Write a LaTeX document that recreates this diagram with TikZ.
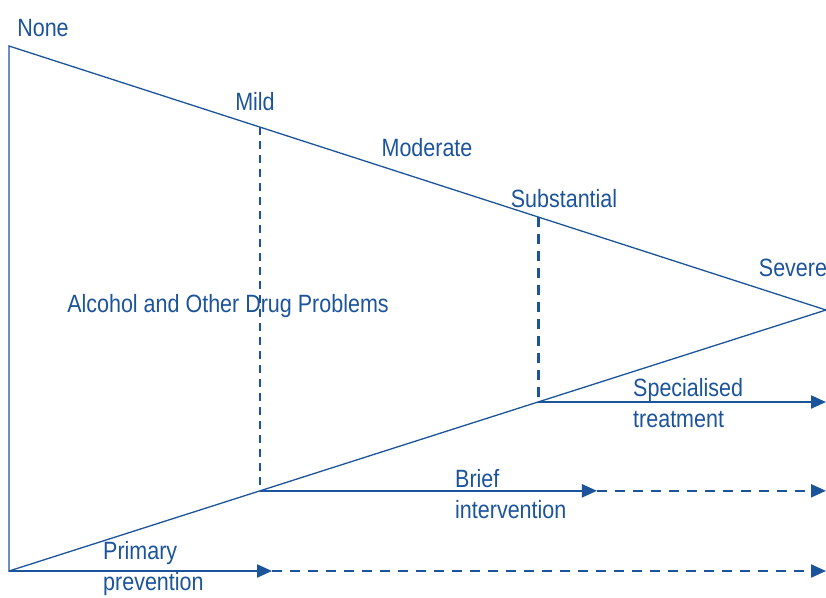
\documentclass[tikz,border=0pt]{standalone}
\usepackage{fontspec}
\setmainfont[FakeStretch=0.86]{Liberation Sans}
\usepackage{tikz}
\usetikzlibrary{arrows.meta,calc,positioning}
\definecolor{aodblue}{RGB}{28,84,156}
\newcommand{\newLevel}[3]{\node[level](#1) at (#3) {#2};}
\newcommand{\newResponse}[3]{\node[response](#1) at (#3) {#2};}

\begin{document}
\begin{tikzpicture}[
    % pixel units, y downwards
    x=1pt,y=-1pt,
    % Default arrow tip
    >={Triangle[length=15pt,width=13pt]},
    % text and line styles
    every node/.style={text=aodblue,font=\fontsize{25}{31}\selectfont},
    level/.style={inner sep=0pt},
    response/.style={inner sep=0pt,anchor=west,align=left},
    edgeline/.style={draw=aodblue,line width=1.3pt},
    arrowline/.style={draw=aodblue,line width=2.2pt,->},
    cutline/.style={draw=aodblue,line width=2pt,dash pattern=on 8pt off 6pt},
    ]
    \useasboundingbox (0,0) rectangle (826,597);

    % triangle
    \coordinate (none) at (9,46);
    \coordinate (base) at (9,571);
    \coordinate (apex) at (826,310);
    \coordinate (mildtop) at ($(none)!0.3072!(apex)$);
    \coordinate (mildbot) at ($(base)!0.3072!(apex)$);
    \coordinate (subtop) at ($(none)!0.6475!(apex)$);
    \coordinate (subbot) at ($(base)!0.6475!(apex)$);
    \draw[edgeline] (apex) -- (none) -- (base) -- cycle;

    % cut-offs
    \draw[cutline,line width=1.6pt] (mildtop) -- (mildbot);
    \draw[cutline,line width=3pt,dash pattern=on 10pt off 7pt] (subtop) -- (subbot);

    % responses
    \coordinate (specend) at (subbot -| apex);
    \coordinate (briefmid) at ($(mildbot)+(337,0)$);
    \coordinate (briefend) at (mildbot -| apex);
    \coordinate (primmid) at (272,571);
    \coordinate (primend) at (base -| apex);
    \draw[arrowline] (subbot) -- (specend);
    \draw[arrowline] (mildbot) -- (briefmid);
    \draw[arrowline,dash pattern=on 10pt off 8pt] (briefmid) -- (briefend);
    \draw[arrowline] (base) -- (primmid);
    \draw[arrowline,dash pattern=on 10pt off 8pt] (primmid) -- (primend);

    % labels
    \newLevel{nonelbl}{None}{43,28}
    \newLevel{mildlbl}{Mild}{255,102}
    \newLevel{modlbl}{Moderate}{427,148}
    \newLevel{sublbl}{Substantial}{564,199}
    \newLevel{sevlbl}{Severe}{793,268}
    \newLevel{aodlbl}{Alcohol and Other Drug Problems}{228,306}
    \newResponse{speclbl}{Specialised\\treatment}{633,403}
    \newResponse{brieflbl}{Brief\\intervention}{455,494}
    \newResponse{primlbl}{Primary\\prevention}{103,569}
\end{tikzpicture}
\end{document}
